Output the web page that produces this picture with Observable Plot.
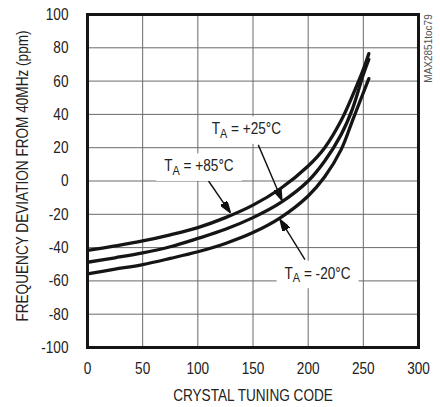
<!DOCTYPE html>
<html>
<head>
<meta charset="utf-8">
<script src="https://cdn.jsdelivr.net/npm/d3@7"></script>
<script src="https://cdn.jsdelivr.net/npm/@observablehq/plot@0.6"></script>
<style>
  html, body { margin: 0; padding: 0; background: #fff; }
  svg { display: block; }
</style>
</head>
<body>
<script>
// ---- data ----
const codes = [0, 25, 50, 75, 100, 125, 150, 175, 200, 215, 230, 240, 250, 255];
const dev85 = [-41.7, -39, -36, -32.3, -28, -22, -14.5, -4.5, 9, 20, 36.5, 51, 67, 76.5];
const dev25 = [-48.8, -46.1, -43.2, -39.5, -34.5, -29, -22, -13, 0, 12, 28, 43, 64, 73];
const devM20 = [-55.8, -53, -50.2, -46.5, -42.5, -37.5, -31, -22, -9, 2.5, 19, 36, 53, 61.5];

const xTicks = [0, 50, 100, 150, 200, 250, 300];
const yTicks = [-100, -80, -60, -40, -20, 0, 20, 40, 60, 80, 100];

const labelText = ["T_A = +85°C", "T_A = +25°C", "T_A = -20°C"];
const labelX = [101, 144, 208.5];
const labelY = [9, 31.3, -55.4];

const arrowX1 = [109.7, 154.8, 197.1];
const arrowY1 = [0, 21.7, -47.2];
const arrowX2 = [129.5, 176.2, 174.5];
const arrowY2 = [-19.1, -11.6, -23.1];

const xTitle = "CRYSTAL TUNING CODE";
const yTitle = "FREQUENCY DEVIATION FROM 40MHz (ppm)";
const partNote = "MAX2851toc79";

// ---- tables ----
const series = [
  ...codes.map((c, i) => ({code: c, dev: dev85[i], temp: "+85"})),
  ...codes.map((c, i) => ({code: c, dev: dev25[i], temp: "+25"})),
  ...codes.map((c, i) => ({code: c, dev: devM20[i], temp: "-20"}))
];
const labels = labelText.map((t, i) => ({t, x: labelX[i], y: labelY[i]}));
const arrows = arrowX1.map((x1, i) => ({x1, y1: arrowY1[i], x2: arrowX2[i], y2: arrowY2[i]}));

const FONT = "'Liberation Sans', Arial, sans-serif";
const SQUEEZE = 0.8; // mimic the condensed face of the reference

function headMarker(color) {
  const ns = "http://www.w3.org/2000/svg";
  const m = document.createElementNS(ns, "marker");
  m.setAttribute("viewBox", "0 -4 12 8");
  m.setAttribute("markerWidth", "12");
  m.setAttribute("markerHeight", "8");
  m.setAttribute("refX", "12");
  m.setAttribute("refY", "0");
  m.setAttribute("orient", "auto");
  m.setAttribute("markerUnits", "userSpaceOnUse");
  const p = document.createElementNS(ns, "path");
  p.setAttribute("d", "M0,-4L12,0L0,4Z");
  p.setAttribute("fill", "#111");
  m.appendChild(p);
  return m;
}

const fmt = d => `${d}`;

const chart = Plot.plot({
  width: 440,
  height: 407,
  marginLeft: 87,
  marginRight: 22,
  marginTop: 14,
  marginBottom: 60,
  style: {fontFamily: FONT, fontSize: "17px", color: "#222", background: "#fff"},
  x: {domain: [0, 300]},
  y: {domain: [-100, 100]},
  marks: [
    Plot.gridX(xTicks, {stroke: "#6a6a6a", strokeOpacity: 1, strokeWidth: 1}),
    Plot.gridY(yTicks, {stroke: "#6a6a6a", strokeOpacity: 1, strokeWidth: 1}),
    Plot.axisX(xTicks, {tickSize: 0, tickPadding: 14, tickFormat: fmt, label: null, fontSize: 17}),
    Plot.axisY(yTicks, {tickSize: 0, tickPadding: 19, tickFormat: fmt, label: null, fontSize: 17}),
    Plot.line(series, {x: "code", y: "dev", z: "temp", stroke: "#151515", strokeWidth: 3.3, curve: "catmull-rom"}),
    Plot.link(arrows, {x1: "x1", y1: "y1", x2: "x2", y2: "y2", stroke: "#111", strokeWidth: 1.4, markerEnd: headMarker}),
    Plot.text(labels, {x: "x", y: "y", text: "t", className: "tlabel", fontSize: 17, fill: "#222"}),
    Plot.frame({stroke: "#151515", strokeWidth: 3}),
    Plot.text([xTitle], {frameAnchor: "bottom", lineAnchor: "middle", textAnchor: "middle", dy: 48, fontSize: 17, fill: "#222"}),
    Plot.text([yTitle], {frameAnchor: "left", lineAnchor: "middle", textAnchor: "middle", rotate: -90, dx: -65, dy: -5, fontSize: 17, fill: "#222"}),
    Plot.text([partNote], {frameAnchor: "top-right", lineAnchor: "middle", textAnchor: "middle", rotate: -90, dx: 10, dy: 34, fontSize: 10, fill: "#555", className: "note"})
  ]
});

document.body.appendChild(chart);

const ns = "http://www.w3.org/2000/svg";

// subscripts for the temperature labels
chart.querySelectorAll(".tlabel text").forEach(t => {
  const s = t.textContent;
  const [main, rest] = s.split("_");
  const sub = rest.slice(0, 1);
  const tail = rest.slice(1);
  t.textContent = "";
  const a = document.createElementNS(ns, "tspan"); a.textContent = main;
  const b = document.createElementNS(ns, "tspan"); b.textContent = sub;
  b.setAttribute("font-size", "0.8em"); b.setAttribute("dy", "3.5");
  const c = document.createElementNS(ns, "tspan"); c.textContent = tail;
  c.setAttribute("dy", "-3.5");
  t.append(a, b, c);
});

// condense every text except the small part note
chart.querySelectorAll("text").forEach(t => {
  if (t.closest(".note")) return;
  const len = t.getComputedTextLength();
  if (len > 0) {
    t.setAttribute("textLength", (len * SQUEEZE).toFixed(2));
    t.setAttribute("lengthAdjust", "spacingAndGlyphs");
  }
});

// white boxes behind the temperature labels
chart.querySelectorAll(".tlabel text").forEach(t => {
  const bb = t.getBBox();
  const r = document.createElementNS(ns, "rect");
  r.setAttribute("x", bb.x - 8);
  r.setAttribute("y", bb.y - 3);
  r.setAttribute("width", bb.width + 16);
  r.setAttribute("height", bb.height + 6);
  r.setAttribute("fill", "#fff");
  if (t.getAttribute("transform")) r.setAttribute("transform", t.getAttribute("transform"));
  t.parentNode.insertBefore(r, t);
});
</script>
</body>
</html>
